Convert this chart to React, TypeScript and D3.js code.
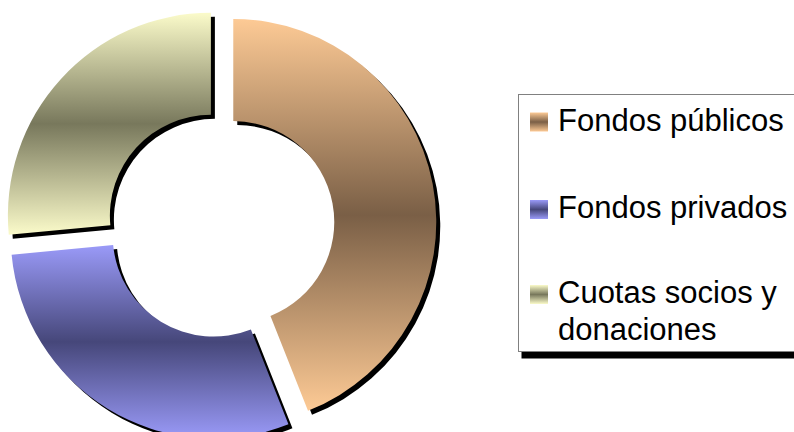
import React from 'react';
import * as d3 from 'd3';

const labels = ['Fondos públicos', 'Fondos privados', 'Cuotas socios y donaciones'];
const legendLines = [['Fondos públicos'], ['Fondos privados'], ['Cuotas socios y', 'donaciones']];
const values = [44, 29.5, 26.5];
const lightColors = ['#fdca95', '#9a9af8', '#fbfbca'];
const darkColors = ['#7a5f46', '#46477a', '#78785c'];

const W = 794;
const H = 432;

const App = () => {
  const cx = 220.5;
  const cy = 224.5;
  const outerR = 203;
  const innerR = 101;
  const explode = 13;
  const shadow = 4;

  const pie = d3.pie<number>().sort(null).value((d) => d);
  const arcs = pie(values);
  const arc = d3.arc<d3.PieArcDatum<number>>().innerRadius(innerR).outerRadius(outerR);

  const offset = (a: d3.PieArcDatum<number>) => {
    const mid = (a.startAngle + a.endAngle) / 2;
    return [Math.sin(mid) * explode, -Math.cos(mid) * explode];
  };

  // legend layout
  const legendX = 518.5;
  const legendY = 94.5;
  const legendH = 257;
  const baselines = [130.5, 218, 303];
  const lineGap = 37;

  return (
    <svg
      width={W}
      height={H}
      style={{ position: 'absolute', left: 0, top: 0 }}
      fontFamily="'Liberation Sans', Arial, sans-serif"
    >
      <defs>
        {labels.map((l, i) => (
          <linearGradient key={l} id={`grad${i}`} x1="0" y1="0" x2="0" y2="1">
            <stop offset="0" stopColor={lightColors[i]} />
            <stop offset="0.5" stopColor={darkColors[i]} />
            <stop offset="1" stopColor={lightColors[i]} />
          </linearGradient>
        ))}
      </defs>
      <rect width={W} height={H} fill="#fff" />

      {/* shadows first */}
      {arcs.map((a, i) => {
        const [dx, dy] = offset(a);
        return (
          <path
            key={`s${i}`}
            d={arc(a) || ''}
            fill="#000"
            transform={`translate(${cx + dx + shadow},${cy + dy + shadow})`}
          />
        );
      })}
      {arcs.map((a, i) => {
        const [dx, dy] = offset(a);
        return (
          <path
            key={`p${i}`}
            d={arc(a) || ''}
            fill={`url(#grad${i})`}
            transform={`translate(${cx + dx},${cy + dy})`}
          />
        );
      })}

      {/* legend */}
      <rect x={legendX + 3} y={legendY + 7} width={300} height={legendH} fill="#000" />
      <rect x={legendX} y={legendY} width={300} height={legendH} fill="#fff" stroke="#808080" />
      {legendLines.map((lines, i) => (
        <g key={labels[i]}>
          <rect x={530} y={baselines[i] - 18} width={18} height={19} fill={`url(#grad${i})`} />
          <text x={558} y={baselines[i]} fontSize={31} fill="#000">
            {lines.map((t, j) => (
              <tspan key={t} x={558} y={baselines[i] + j * lineGap}>
                {t}
              </tspan>
            ))}
          </text>
        </g>
      ))}
    </svg>
  );
};

export default App;
